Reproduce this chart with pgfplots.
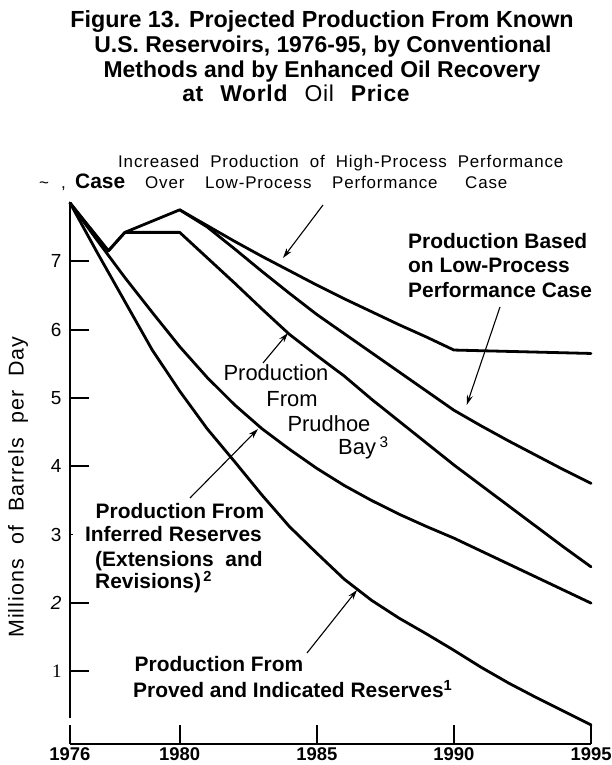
\documentclass[border=0pt]{standalone}
\usepackage{pgfplots}
\pgfplotsset{compat=1.18}
\usepackage{fontspec}
\setmainfont{Liberation Sans}
\newfontfamily\serifone{Liberation Serif}
\newfontfamily\spaced[LetterSpace=5]{Liberation Sans}
\newfontfamily\titlefour[LetterSpace=3]{Liberation Sans}
\usetikzlibrary{arrows.meta}
\newcommand\TitleFont{\fontsize{23}{27}\selectfont\bfseries}
\newcommand\AnnFont{\fontsize{21}{25}\selectfont\bfseries}
\newcommand\SpFont{\spaced\fontsize{17}{20}\selectfont}
\begin{document}
\begin{tikzpicture}[x=1bp,y=1bp]
\useasboundingbox (0,0) rectangle (612,765);
\begin{axis}[
  at={(70bp,21bp)}, anchor=south west,
  scale only axis, width=521bp, height=541bp,
  xmin=1976, xmax=1995, ymin=-0.06, ymax=7.85,
  axis x line=bottom, axis y line=left,
  axis line style={-, line width=2bp},
  tick align=inside, major tick length=19bp,
  tick style={line width=2bp, black},
  xtick={1976,1980,1985,1995},
  xticklabels={1976,1980,1985,1995},
  extra x ticks={1990}, extra x tick labels={1990},
  extra x tick style={tick style={line width=1.2bp}},
  ytick={1,2,4,5,6,7},
  yticklabels={{\serifone 1},{\itshape 2},4,5,6,7},
  extra y ticks={3}, extra y tick labels={3},
  extra y tick style={major tick length=3bp, tick style={line width=1bp}},
  xticklabel style={font=\fontsize{18.5}{22}\selectfont\bfseries},
  yticklabel style={font=\fontsize{19}{22}\selectfont, xshift=-5bp},
  clip=false,
  curve/.style={black, line width=2.8bp, line join=round, line cap=round, mark=none},
]
% A: high-process total
\addplot[curve] coordinates {(1976,7.85)(1977.4,7.15)(1978,7.42)(1980,7.75)(1981,7.52)(1982,7.29)(1983,7.07)(1984,6.86)(1985,6.65)(1986,6.45)(1987,6.26)(1988,6.07)(1989,5.89)(1990,5.70)(1995,5.65)};
% B: low-process total
\addplot[curve] coordinates {(1980,7.75)(1981,7.50)(1982,7.18)(1983,6.85)(1984,6.53)(1985,6.22)(1986,5.94)(1987,5.66)(1988,5.38)(1989,5.10)(1990,4.82)(1991,4.59)(1992,4.37)(1993,4.16)(1994,3.95)(1995,3.75)};
% C: Prudhoe Bay (conventional total)
\addplot[curve] coordinates {(1976,7.85)(1977.4,7.15)(1978,7.42)(1980,7.42)(1981,7.05)(1982,6.68)(1983,6.30)(1984,5.93)(1985,5.62)(1986,5.32)(1987,4.98)(1988,4.66)(1989,4.34)(1990,4.02)(1991,3.72)(1992,3.42)(1993,3.12)(1994,2.82)(1995,2.53)};
% D: inferred reserves
\addplot[curve] coordinates {(1976,7.85)(1977,7.30)(1978,6.76)(1979,6.25)(1980,5.75)(1981,5.30)(1982,4.90)(1983,4.55)(1984,4.25)(1985,3.97)(1986,3.72)(1987,3.50)(1988,3.30)(1989,3.12)(1990,2.95)(1991,2.76)(1992,2.57)(1993,2.38)(1994,2.19)(1995,2.00)};
% E: proved and indicated reserves
\addplot[curve] coordinates {(1976,7.85)(1977,7.12)(1978,6.41)(1979,5.70)(1980,5.10)(1981,4.55)(1982,4.07)(1983,3.58)(1984,3.12)(1985,2.73)(1986,2.35)(1987,2.04)(1988,1.78)(1989,1.55)(1990,1.31)(1991,1.06)(1992,0.83)(1993,0.62)(1994,0.42)(1995,0.22)};
\end{axis}
\fill[white] (66,39.5) rectangle (74,46.5);
% title
\node[anchor=base, inner sep=0, font=\fontsize{23.4}{27}\selectfont\bfseries] at (322,737) {Figure 13. Projected Production From Known};
\node[anchor=base, inner sep=0, font=\TitleFont] at (323,712) {U.S. Reservoirs, 1976-95, by Conventional};
\node[anchor=base, inner sep=0, font=\TitleFont] at (322,687) {Methods and by Enhanced Oil Recovery};
\node[anchor=base, inner sep=0, font=\titlefour\fontsize{23}{27}\selectfont\bfseries] at (296,663) {at\hspace{17bp}World\hspace{17bp}{\mdseries Oil}\hspace{17bp}Price};
% y label
\node[rotate=90, inner sep=0, font=\spaced\fontsize{21.5}{24}\selectfont] at (18,278) {Millions\hspace{14bp}of\hspace{14bp}Barrels\hspace{14bp}per\hspace{14bp}Day};
% increased production annotation
\node[anchor=base west, inner sep=0, font=\SpFont] at (118,597) {Increased\hspace{11bp}Production\hspace{11bp}of\hspace{11bp}High-Process\hspace{11bp}Performance};
\node[anchor=base west, inner sep=0, font=\SpFont] at (39,576) {\textasciitilde};
\node[anchor=base west, inner sep=0, font=\SpFont] at (61,576) {,};
\node[anchor=base west, inner sep=0, font=\bfseries\fontsize{21}{24}\selectfont] at (75,576) {Case};
\node[anchor=base west, inner sep=0, font=\SpFont] at (145,576) {Over};
\node[anchor=base west, inner sep=0, font=\SpFont] at (205,576) {Low-Process};
\node[anchor=base west, inner sep=0, font=\SpFont] at (332,576) {Performance};
\node[anchor=base west, inner sep=0, font=\SpFont] at (465,576) {Case};
\draw[line width=1.1bp, -{Stealth[length=10bp,width=6bp]}] (323,560) -- (283,507);
% low-process
\node[anchor=base west, inner sep=0, font=\AnnFont] at (408,516) {Production Based};
\node[anchor=base west, inner sep=0, font=\AnnFont] at (408,492) {on Low-Process};
\node[anchor=base west, inner sep=0, font=\AnnFont] at (408,467) {Performance Case};
\draw[line width=1.1bp, -{Stealth[length=10bp,width=6bp]}] (500,458) -- (466.7,360);
% Prudhoe
\node[anchor=base, inner sep=0, font=\fontsize{22}{25}\selectfont] at (276,384) {Production};
\node[anchor=base, inner sep=0, font=\fontsize{22}{25}\selectfont] at (292,358) {From};
\node[anchor=base, inner sep=0, font=\fontsize{22}{25}\selectfont] at (329,333) {Prudhoe};
\node[anchor=base west, inner sep=0, font=\fontsize{22}{25}\selectfont] at (338,310) {Bay\,\textsuperscript{3}};
\draw[line width=1.1bp, -{Stealth[length=10bp,width=6bp]}] (263,402) -- (288,432);
% inferred
\node[anchor=base, inner sep=0, font=\AnnFont] at (180,246) {Production From};
\node[anchor=base, inner sep=0, font=\AnnFont] at (173.5,223) {Inferred Reserves};
\node[anchor=base west, inner sep=0, font=\AnnFont] at (95,198) {(Extensions\ \ and};
\node[anchor=base west, inner sep=0, font=\AnnFont] at (95,176) {Revisions)\textsuperscript{\,2}};
\draw[line width=1.1bp, -{Stealth[length=10bp,width=6bp]}] (190,267) -- (258,336);
% proved
\node[anchor=base, inner sep=0, font=\AnnFont] at (219,93) {Production From};
\node[anchor=base west, inner sep=0, font=\AnnFont] at (133,67) {Proved and Indicated Reserves\textsuperscript{1}};
\draw[line width=1.1bp, -{Stealth[length=10bp,width=6bp]}] (307,112) -- (357,175);
\end{tikzpicture}
\end{document}
